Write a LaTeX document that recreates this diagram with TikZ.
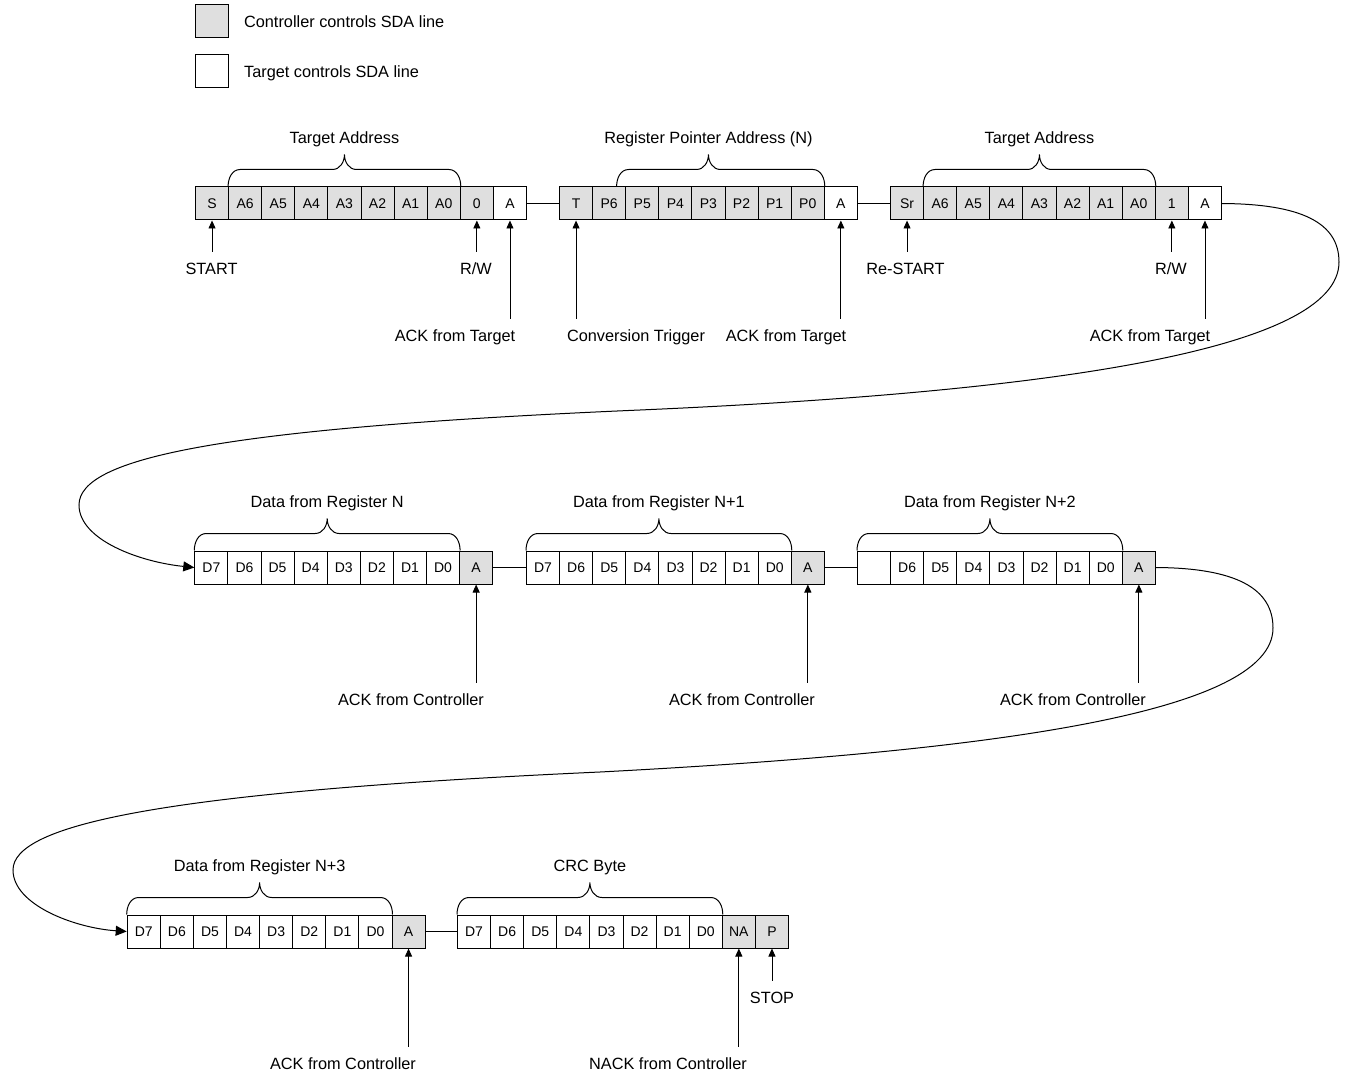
\documentclass[tikz,border=0pt]{standalone}
\usepackage{fontspec}
\setmainfont{Liberation Sans}
\usetikzlibrary{arrows.meta,calc,positioning}
\definecolor{ctlgray}{HTML}{DFDFDF}

\tikzset{
  bit/.style={draw, line width=1pt, minimum width=33.1, minimum height=33, inner sep=0pt, anchor=west, font=\fontsize{14}{16}\selectfont},
  ctl/.style={bit, fill=ctlgray},
  tgt/.style={bit, fill=white},
  lbl/.style={font=\fontsize{16.3}{19}\selectfont, inner sep=2pt, outer sep=9pt, text height=11.5pt, text depth=3pt, yshift=-2pt},
  ptr/.style={-{Triangle[length=8pt,width=7pt]}, line width=0.9pt},
  hop/.style={-{Triangle[length=11pt,width=10pt]}, line width=1pt},
  brc/.style={line width=1pt},
}

% brace over a run of bits: [left shift]{first}{last}{name}{text}
\newcommand{\busbrace}[5][0]{%
  \coordinate (#4-l) at ($(#2.north west)+(#1,0)$);
  \coordinate (#4-r) at (#3.north east);
  \coordinate (#4-m) at ($(#2.north west)!0.5!(#3.north east)$);
  \draw[brc] (#4-l) to[out=90,in=180] ($(#4-l)+(12,-17)$) -- ($(#4-m)+(-12,-17)$)
    to[out=0,in=-90] ($(#4-m)+(0,-32)$) to[out=-90,in=180] ($(#4-m)+(12,-17)$)
    -- ($(#4-r)+(-12,-17)$) to[out=0,in=90] (#4-r);
  \node[lbl] (#4) at ($(#4-m)+(0,-49)$) {#5};
}

\begin{document}
\begin{tikzpicture}[x=1pt, y=-1pt]
  \useasboundingbox (0,0) rectangle (1345,1078);

  % legend
  \node[ctl] (keyc) at (195,21.5) {};
  \node[lbl, inner sep=0pt, outer sep=0pt, right=15 of keyc] (keyctext) {Controller controls SDA line};
  \node[tgt] (keyt) at (195,71.5) {};
  \node[lbl, inner sep=0pt, outer sep=0pt, right=15 of keyt] (keyttext) {Target controls SDA line};

  % row 1: write pointer, then read address
  \foreach \t/\s [count=\i from 0] in {S/ctl,A6/ctl,A5/ctl,A4/ctl,A3/ctl,A2/ctl,A1/ctl,A0/ctl,0/ctl,A/tgt}
    \node[\s] (wa\i) at (195+\i*33.1, 203.5) {\t};
  \foreach \t/\s [count=\i from 0] in {T/ctl,P6/ctl,P5/ctl,P4/ctl,P3/ctl,P2/ctl,P1/ctl,P0/ctl,A/tgt}
    \node[\s] (rp\i) at (559+\i*33.1, 203.5) {\t};
  \foreach \t/\s [count=\i from 0] in {Sr/ctl,A6/ctl,A5/ctl,A4/ctl,A3/ctl,A2/ctl,A1/ctl,A0/ctl,1/ctl,A/tgt}
    \node[\s] (ra\i) at (890+\i*33.1, 203.5) {\t};
  \draw[brc] (wa9.east) -- (rp0.west);
  \draw[brc] (rp8.east) -- (ra0.west);

  \busbrace{wa1}{wa7}{ta1}{Target Address}
  \busbrace[24.5]{rp1}{rp7}{rpa}{Register Pointer Address (N)}
  \busbrace{ra1}{ra7}{ta2}{Target Address}

  \node[lbl] (start) at (211.5,268) {START};
  \node[lbl] (rw1) at (476,268) {R/W};
  \node[lbl] (ack1) at (455,335) {ACK from Target};
  \node[lbl] (conv) at (636,335) {Conversion Trigger};
  \node[lbl] (ack2) at (786,335) {ACK from Target};
  \node[lbl] (restart) at (905.5,268) {Re-START};
  \node[lbl] (rw2) at (1171,268) {R/W};
  \node[lbl] (ack3) at (1150,335) {ACK from Target};
  \draw[ptr] (start.north -| wa0.south) -- (wa0.south);
  \draw[ptr] (rw1.north -| wa8.south) -- (wa8.south);
  \draw[ptr] (ack1.north -| wa9.south) -- (wa9.south);
  \draw[ptr] (conv.north -| rp0.south) -- (rp0.south);
  \draw[ptr] (ack2.north -| rp8.south) -- (rp8.south);
  \draw[ptr] (restart.north -| ra0.south) -- (ra0.south);
  \draw[ptr] (rw2.north -| ra8.south) -- (ra8.south);
  \draw[ptr] (ack3.north -| ra9.south) -- (ra9.south);

  % row 2: data bytes N .. N+2
  \foreach \t/\s [count=\i from 0] in {D7/tgt,D6/tgt,D5/tgt,D4/tgt,D3/tgt,D2/tgt,D1/tgt,D0/tgt,A/ctl}
    \node[\s] (dn\i) at (194.3+\i*33.1, 567.5) {\t};
  \foreach \t/\s [count=\i from 0] in {D7/tgt,D6/tgt,D5/tgt,D4/tgt,D3/tgt,D2/tgt,D1/tgt,D0/tgt,A/ctl}
    \node[\s] (dm\i) at (526+\i*33.1, 567.5) {\t};
  \foreach \t/\s [count=\i from 0] in {{}/tgt,D6/tgt,D5/tgt,D4/tgt,D3/tgt,D2/tgt,D1/tgt,D0/tgt,A/ctl}
    \node[\s] (dp\i) at (857+\i*33.1, 567.5) {\t};
  \draw[brc] (dn8.east) -- (dm0.west);
  \draw[brc] (dm8.east) -- (dp0.west);

  \busbrace{dn0}{dn7}{regn}{Data from Register N}
  \busbrace{dm0}{dm7}{regm}{Data from Register N+1}
  \busbrace{dp0}{dp7}{regp}{Data from Register N+2}

  \node[lbl] (ackc1) at (411,699) {ACK from Controller};
  \node[lbl] (ackc2) at (742,699) {ACK from Controller};
  \node[lbl] (ackc3) at (1073,699) {ACK from Controller};
  \draw[ptr] (ackc1.north -| dn8.south) -- (dn8.south);
  \draw[ptr] (ackc2.north -| dm8.south) -- (dm8.south);
  \draw[ptr] (ackc3.north -| dp8.south) -- (dp8.south);

  % row 3: data byte N+3 and CRC
  \foreach \t/\s [count=\i from 0] in {D7/tgt,D6/tgt,D5/tgt,D4/tgt,D3/tgt,D2/tgt,D1/tgt,D0/tgt,A/ctl}
    \node[\s] (dq\i) at (126.7+\i*33.1, 931.5) {\t};
  \foreach \t/\s [count=\i from 0] in {D7/tgt,D6/tgt,D5/tgt,D4/tgt,D3/tgt,D2/tgt,D1/tgt,D0/tgt,NA/ctl,P/ctl}
    \node[\s] (crc\i) at (457+\i*33.1, 931.5) {\t};
  \draw[brc] (dq8.east) -- (crc0.west);

  \busbrace{dq0}{dq7}{regq}{Data from Register N+3}
  \busbrace{crc0}{crc7}{crcb}{CRC Byte}

  \node[lbl] (ackc4) at (343,1063) {ACK from Controller};
  \node[lbl] (nack) at (668,1063) {NACK from Controller};
  \node[lbl] (stop) at (772,997) {STOP};
  \draw[ptr] (ackc4.north -| dq8.south) -- (dq8.south);
  \draw[ptr] (nack.north -| crc8.south) -- (crc8.south);
  \draw[ptr] (stop.north -| crc9.south) -- (crc9.south);

  % wrap-around links between rows
  \draw[hop] (ra9.east) .. controls (1300,204) and (1339,222) .. (1339,262)
    .. controls (1339,350) and (1050,392) .. (640,410)
    .. controls (220,428) and (79,458) .. (79,505)
    .. controls (79,540) and (140,562) .. (dn0.west);
  \draw[hop] (dp8.east) .. controls (1235,568) and (1273,588) .. (1273,628)
    .. controls (1273,715) and (980,752) .. (600,772)
    .. controls (160,792) and (13,825) .. (13,870)
    .. controls (13,905) and (75,928) .. (dq0.west);
\end{tikzpicture}
\end{document}
